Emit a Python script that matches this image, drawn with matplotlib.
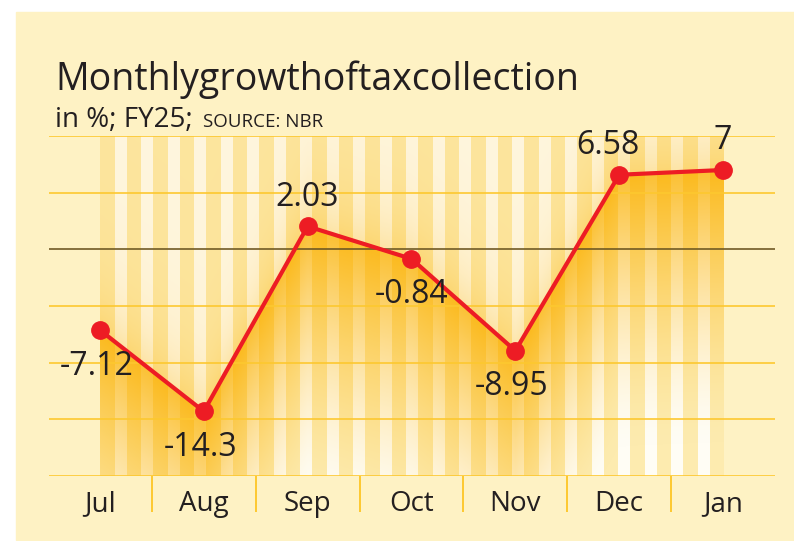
import numpy as np
import matplotlib.pyplot as plt
from matplotlib.patches import Rectangle

months = ["Jul", "Aug", "Sep", "Oct", "Nov", "Dec", "Jan"]
growth = [-7.12, -14.3, 2.03, -0.84, -8.95, 6.58, 7]
label_side = ["below", "below", "above", "below", "below", "above", "above"]
label_dx = [-2, -2, 0, 0, -3, -8, 0]

plt.rcParams['font.family'] = ['Open Sans', 'DejaVu Sans']
ink = "#231F20"
bg = "#FEF2C4"
grid_yellow = "#FDC82F"

fig = plt.figure(figsize=(7.94, 5.41), dpi=100)
fig.patches.append(Rectangle((16/794, 1/541), 1 - 16/794, 528/541,
                             transform=fig.transFigure, color=bg, zorder=-5))

ax = fig.add_axes([49/794, 1 - 476/541, 726/794, 340/541])
ax.set_zorder(2)
ax.set_facecolor("none")
x = np.arange(len(months))
ax.set_xlim(-0.49, 6.5)
ax.set_ylim(-20, 10)

# gradient band with stripes, built from the line
nx, ny = 1248, 600
gx = np.linspace(0, len(months) - 1, nx)
gy = np.linspace(-20, 10, ny)
line_y = np.interp(gx, x, growth)
d = line_y[None, :] - gy[:, None]          # >0 below the line
t_below = np.clip(1 - d / 24, 0, 1) ** 1.5
t_above = 0.3 * np.exp(np.minimum(d, 0) / 4) + 0.12
t = np.where(d >= 0, t_below, t_above)

start, period, width = 0.144, 0.255, 0.115
stripe = ((gx - start) % period < width) & (gx >= start) & (gx <= 5.9)

pale = np.array([253, 235, 175]) / 255
white = np.array([255, 253, 245]) / 255
orange = np.array([251, 186, 30]) / 255
col = pale + (orange - pale) * t[..., None]
stp = white + (orange - white) * (0.9 * t)[..., None]
img = np.where(stripe[None, :, None], stp, col)
ax.imshow(img, extent=(0, len(months) - 1, -20, 10), origin="lower",
          aspect="auto", interpolation="nearest", zorder=1)

for gv in [10, 5, -5, -10, -15, -20]:
    ax.axhline(gv, color=grid_yellow, lw=1.4, alpha=0.85, zorder=2)
ax.axhline(0, color="#6D5722", lw=1.3, alpha=0.9, zorder=3)

ax.plot(x, growth, color="#ED1C24", lw=3, marker="o", markersize=12.5,
        zorder=5, clip_on=False)

for xi, v, side, dx in zip(x, growth, label_side, label_dx):
    dy = -26 if side == "below" else 21
    ax.annotate(f"{v:g}", (xi, v), xytext=(dx, dy), textcoords="offset points",
                ha="center", va="center", fontsize=23, color=ink,
                annotation_clip=False, zorder=6)

ax.set_xticks(x)
ax.set_xticklabels(months, fontsize=20, color=ink)
ax.set_xticks(x[:-1] + 0.5, minor=True)
ax.tick_params(axis="x", which="major", length=0, pad=10)
ax.tick_params(axis="x", which="minor", length=26, width=1.4,
               color=grid_yellow, direction="out")
ax.set_yticks([])
for s in ax.spines.values():
    s.set_visible(False)

fig.text(55/794, 1 - 90/541, "Monthlygrowthoftaxcollection",
         fontsize=27, color=ink, va="baseline", ha="left")
fig.text(55/794, 1 - 127/541, "in %; FY25;", fontsize=20, color=ink,
         va="baseline", ha="left")
fig.text(203/794, 1 - 127/541, "SOURCE: NBR", fontsize=13.5, color=ink,
         va="baseline", ha="left")

fig.savefig("out.png", dpi=100)
